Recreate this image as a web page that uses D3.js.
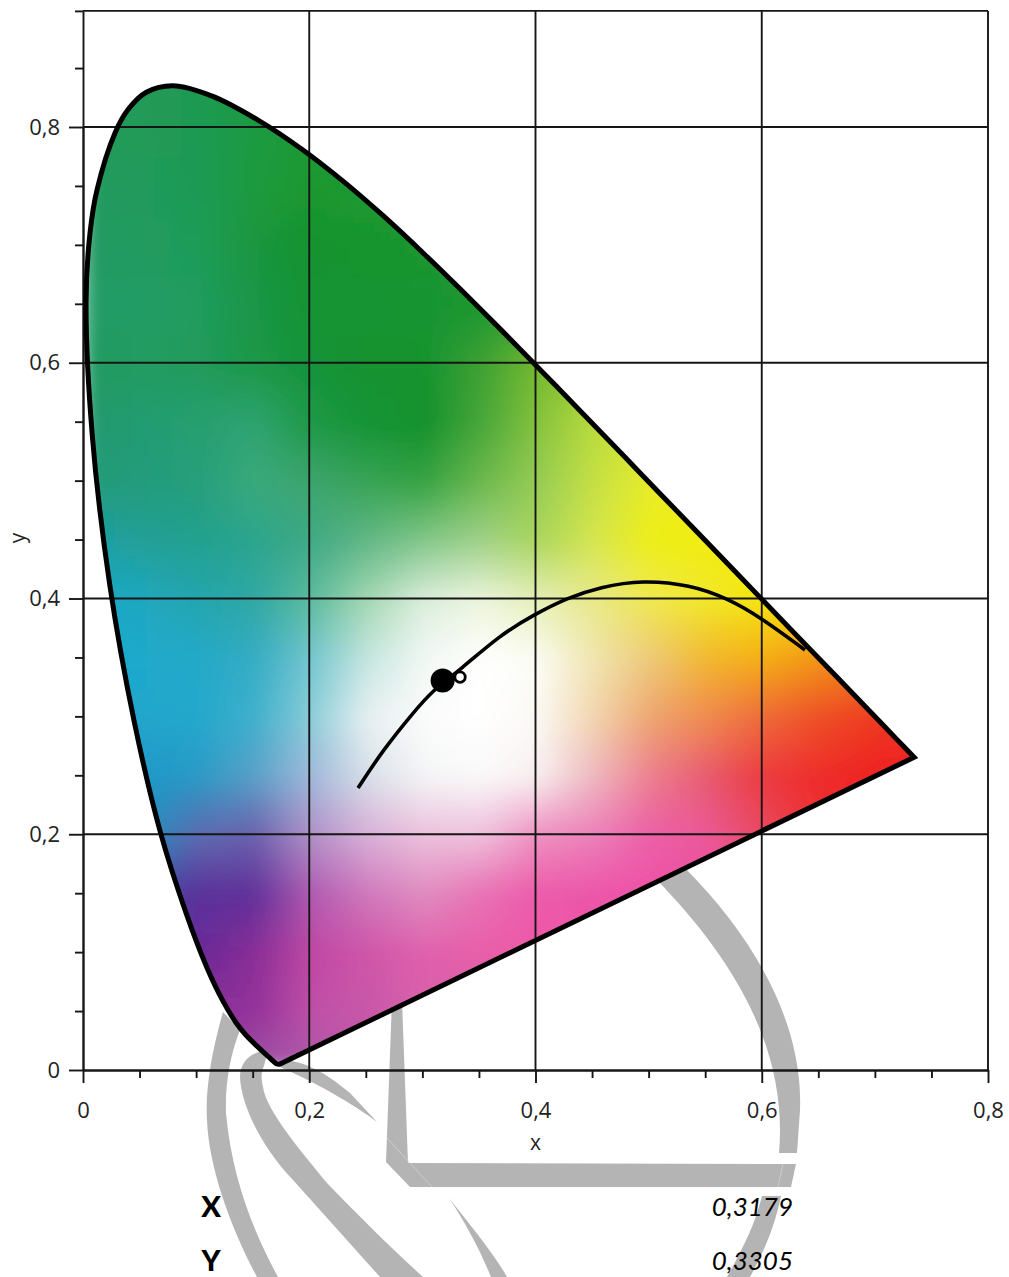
<!DOCTYPE html>
<html>
<head>
<meta charset="utf-8">
<script src="https://cdn.jsdelivr.net/npm/d3@7"></script>
<style>
  html, body { margin: 0; padding: 0; background: #fff; }
  svg { display: block; }
  text { font-family: "Open Sans", sans-serif; fill: #222; }
  .axis path, .axis line, .grid line { stroke: #161616; stroke-width: 1.9; }
</style>
</head>
<body>
<svg width="1009" height="1277"></svg>
<script>
// spectral locus
var locusX = [0.1741,0.1714,0.1644,0.1566,0.1440,0.1355,0.1241,0.1096,0.0913,0.0687,0.0454,0.0235,0.0082,0.0027,0.0062,0.0124,0.0283,0.0400,0.0560,0.0796,0.1142,0.1547,0.1929,0.2296,0.2658,0.3016,0.3373,0.3731,0.4087,0.4441,0.4788,0.5125,0.5752,0.6270,0.6658,0.6915,0.7079,0.7190,0.7347];
var locusY = [0.0050,0.0051,0.0109,0.0177,0.0297,0.0399,0.0578,0.0868,0.1327,0.2007,0.2950,0.4127,0.5384,0.6515,0.7101,0.7466,0.7950,0.8150,0.8295,0.8350,0.8262,0.8059,0.7816,0.7543,0.7243,0.6923,0.6589,0.6245,0.5896,0.5547,0.5202,0.4866,0.4242,0.3725,0.3340,0.3083,0.2920,0.2809,0.2653];

// black body curve
var curveX = [0.2431,0.2652,0.2917,0.3094,0.3333,0.3686,0.3996,0.4279,0.4570,0.4950,0.5366,0.5693,0.5998,0.6382];
var curveY = [0.2392,0.2715,0.3029,0.3224,0.3393,0.3690,0.3868,0.4004,0.4098,0.4157,0.4115,0.4004,0.3835,0.3563];

var pointX = 0.3179, pointY = 0.3305;
var whiteX = 0.3333, whiteY = 0.3333;

var majorTicks = [0, 0.2, 0.4, 0.6, 0.8];
var minorTicksX = [0.05,0.1,0.15,0.25,0.3,0.35,0.45,0.5,0.55,0.65,0.7,0.75];
var minorTicksY = [0.05,0.1,0.15,0.25,0.3,0.35,0.45,0.5,0.55,0.65,0.7,0.75,0.85];
var yTop = 0.8985;

// colour samples inside the diagram, one row per y value
var swatchX = [0,0.05,0.1,0.15,0.2,0.25,0.3,0.35,0.4,0.45,0.5,0.55,0.6,0.65,0.7,0.75];
var swatchY = [0.85,0.8,0.75,0.7,0.65,0.6,0.55,0.5,0.45,0.4,0.35,0.3,0.25,0.2,0.15,0.1,0.05,0];
var swatchRows = [
  ["#219a58","#219a58","#1f9a52","#1f9a42","#1f9a35","#1f9a35","#1f9a35","#1f9a35","#1f9a35","#1f9a35","#1f9a35","#1f9a35","#1f9a35","#1f9a35","#1f9a35","#1f9a35"],
  ["#219a58","#219a58","#1f9a52","#1f9a42","#1f9a35","#1f9a35","#1f9a35","#1f9a35","#1f9a35","#1f9a35","#1f9a35","#1f9a35","#1f9a35","#1f9a35","#1f9a35","#1f9a35"],
  ["#209a5e","#209a5c","#1e9a55","#1d9a3f","#1c982f","#1e9a30","#1e9a30","#1e9a30","#1e9a30","#1e9a30","#1e9a30","#1e9a30","#1e9a30","#1e9a30","#1e9a30","#1e9a30"],
  ["#209a63","#209b60","#1f9c58","#1a9640","#15922f","#17942f","#1b962f","#1d982f","#1d982f","#1d982f","#1d982f","#1d982f","#1d982f","#1d982f","#1d982f","#1d982f"],
  ["#209b68","#209c66","#209c5e","#1a9648","#149332","#149330","#179430","#1c972f","#35a030","#35a030","#35a030","#35a030","#35a030","#35a030","#35a030","#35a030"],
  ["#1f9a60","#229c60","#219b5c","#1c9847","#16933a","#14922f","#15932f","#3ea133","#73b930","#9ecb30","#9ecb30","#9ecb30","#9ecb30","#9ecb30","#9ecb30","#9ecb30"],
  ["#20996f","#219c72","#279f70","#2fa472","#1f9947","#169435","#13912c","#46a63a","#85c23e","#b8dc3e","#dbe530","#e8ec20","#e8ec20","#e8ec20","#e8ec20","#e8ec20"],
  ["#209a78","#219c7c","#279f7c","#3aa97c","#3da56e","#38a457","#36a343","#6bb84e","#96cc55","#c5e045","#e8ec2a","#efee14","#f0ee10","#f0ee10","#f0ee10","#f0ee10"],
  ["#1fa0a8","#20a098","#22a18f","#2ca58e","#3fa985","#62b886","#84c88b","#a0d28a","#aad65c","#d6e650","#eeee18","#f0ec10","#f0ec10","#f0ec10","#f0ec10","#f0ec10"],
  ["#1ba8c8","#1fa8c0","#24a6b0","#2fa8a4","#5cbb9e","#a4d8b2","#dceedd","#edf5dd","#e6f0b8","#e8e88a","#efe850","#f2e82a","#f5e50f","#f5d80a","#f5d80a","#f5d80a"],
  ["#1ca8cc","#1fa9cc","#24a9c8","#34acc4","#74c6d0","#c5e6e0","#f2f8f4","#ffffff","#fcfcf5","#f0e6b0","#eec97a","#f2b830","#f5ae15","#f29518","#ee8020","#ee8020"],
  ["#20a6cc","#20a6cc","#24a8cc","#3fb0cd","#8acdd8","#e8f0f2","#fbfcfb","#ffffff","#fbfaf5","#f3d5b0","#eea670","#f08a50","#ee6a3a","#ee4e26","#ee3a22","#ee2e20"],
  ["#1f98c8","#1f98c8","#2a9ac6","#5aa0c8","#a0b8da","#d8dfe8","#f4f5f6","#fafafa","#f8eff0","#eeb8c0","#ec7f90","#e85a70","#ec3a40","#ee2c2c","#ee2222","#ee2222"],
  ["#2090c0","#2090c0","#5d6bb0","#6b60ac","#b090c8","#d8b0d8","#ecc0dc","#eec0dc","#ee90c0","#ec80ba","#ec5fa8","#ea5898","#e84a60","#ee3030","#ee3030","#ee3030"],
  ["#4050a0","#4050a0","#5a309a","#60309a","#b05ab0","#d078bc","#e08cc0","#e872b4","#ec5aaa","#ec55a8","#ee52a6","#ee52a6","#ee52a6","#ee52a6","#ee52a6","#ee52a6"],
  ["#6a2a98","#6a2a98","#6a2a98","#8a2d96","#c048a4","#cf55a8","#e060ac","#e85ea8","#ee58a8","#ee58a8","#ee58a8","#ee58a8","#ee58a8","#ee58a8","#ee58a8","#ee58a8"],
  ["#8a2f98","#8a2f98","#8a2f98","#94329a","#bf50a8","#c858a8","#d860ac","#d860ac","#d860ac","#d860ac","#d860ac","#d860ac","#d860ac","#d860ac","#d860ac","#d860ac"],
  ["#a055a8","#a055a8","#a055a8","#a055a8","#a85aa8","#c05aa8","#c05aa8","#c05aa8","#c05aa8","#c05aa8","#c05aa8","#c05aa8","#c05aa8","#c05aa8","#c05aa8","#c05aa8"]
];

// watermark behind the chart
var watermark = [
  "M683,866 C762,945 803,1030 800,1110 L797,1153 L779,1153 C788,1050 735,960 655,878 Z",
  "M392,1000 L402,1000 L408,1163 L796,1164 L791,1187 L410,1187 L386,1162 Z",
  "M781,1196 C775,1225 765,1250 750,1277 L727,1277 C742,1250 755,1225 762,1196 Z",
  "M223,1012 C212,1050 205,1090 207,1120 C209,1170 232,1230 257,1277 L278,1277 C255,1235 232,1180 226,1113 C225,1085 230,1055 240,1030 Z",
  "M268,1050 C250,1052 240,1062 240,1077 C241,1105 262,1148 293,1180 L380,1277 L423,1277 C390,1247 355,1212 327,1183 C300,1150 266,1110 263,1087 C261,1078 261,1072 264,1066 Z",
  "M285,1060 C305,1062 325,1072 350,1093 L377,1122 C355,1105 315,1082 280,1067 Z",
  "M449,1198 C470,1225 495,1255 507,1277 L491,1277 C480,1250 465,1222 449,1198 Z"
];

var svg = d3.select("svg");

var x = d3.scaleLinear().domain([0, 0.8]).range([83, 988]);
var y = d3.scaleLinear().domain([0, 0.8]).range([1070, 127]);

function comma(d) { return String(d).replace(".", ","); }

svg.append("g").selectAll("path")
  .data(watermark)
  .enter().append("path")
  .attr("d", d => d)
  .attr("fill", "#b4b4b4");

// the thin seams in the watermark
svg.append("g").selectAll("path")
  .data(["M387,1138 L432,1187", "M783,1164 L778,1187"])
  .enter().append("path")
  .attr("d", d => d)
  .attr("stroke", "#d2d2d2")
  .attr("stroke-width", 0.8)
  .attr("fill", "none");

var locus = locusX.map((d, i) => [x(d), y(locusY[i])]);
var locusPath = d3.line().curve(d3.curveCatmullRom.alpha(0.5))(locus) + "Z";

svg.append("clipPath").attr("id", "locus-clip")
  .append("path").attr("d", locusPath);

var defs = svg.append("defs");
defs.append("filter").attr("id", "soft")
  .attr("filterUnits", "userSpaceOnUse")
  .attr("x", 0).attr("y", 0).attr("width", 1009).attr("height", 1277)
  .append("feGaussianBlur").attr("stdDeviation", 9);

// colour field on a small canvas, bilinear between the samples
var step = 3;
var fx0 = x(0), fy0 = y(0.85), fw = x(0.75) - fx0, fh = y(0) - fy0;
var canvas = document.createElement("canvas");
canvas.width = Math.ceil(fw / step);
canvas.height = Math.ceil(fh / step);
var ctx = canvas.getContext("2d");
var rowScale = d3.scaleLinear().domain([y(swatchY[0]), y(0)]).range([0, swatchY.length - 1]).clamp(true);
var colScale = d3.scaleLinear().domain([x(0), x(swatchX[swatchX.length - 1])]).range([0, swatchX.length - 1]).clamp(true);
for (var j = 0; j < canvas.height; j++) {
  for (var i = 0; i < canvas.width; i++) {
    var rf = rowScale(fy0 + j * step), cf = colScale(fx0 + i * step);
    var r0 = Math.min(Math.floor(rf), swatchY.length - 2), c0 = Math.min(Math.floor(cf), swatchX.length - 2);
    var upper = d3.interpolateRgb(swatchRows[r0][c0], swatchRows[r0][c0 + 1])(cf - c0);
    var lower = d3.interpolateRgb(swatchRows[r0 + 1][c0], swatchRows[r0 + 1][c0 + 1])(cf - c0);
    ctx.fillStyle = d3.interpolateRgb(upper, lower)(rf - r0);
    ctx.fillRect(i, j, 1, 1);
  }
}

svg.append("g")
  .attr("clip-path", "url(#locus-clip)")
  .append("image")
  .attr("href", canvas.toDataURL())
  .attr("x", fx0).attr("y", fy0)
  .attr("width", canvas.width * step).attr("height", canvas.height * step)
  .attr("preserveAspectRatio", "none")
  .attr("filter", "url(#soft)");

// grid
var grid = svg.append("g").attr("class", "grid");
grid.selectAll(".gx").data(majorTicks.slice(1))
  .enter().append("line")
  .attr("x1", d => x(d)).attr("x2", d => x(d))
  .attr("y1", y(yTop)).attr("y2", y(0));
grid.selectAll(".gy").data(majorTicks.slice(1).concat([yTop]))
  .enter().append("line")
  .attr("y1", d => y(d)).attr("y2", d => y(d))
  .attr("x1", x(0)).attr("x2", x(0.8));

// axes
var bottom = svg.append("g").attr("class", "axis")
  .attr("transform", "translate(0," + y(0) + ")");
bottom.call(d3.axisBottom(x).tickValues(majorTicks).tickSize(13).tickSizeOuter(0).tickPadding(19).tickFormat(comma));
bottom.append("g").call(d3.axisBottom(x).tickValues(minorTicksX).tickSize(8).tickSizeOuter(0).tickFormat(""));

var left = svg.append("g").attr("class", "axis")
  .attr("transform", "translate(" + x(0) + ",0)");
left.call(d3.axisLeft(y.copy().domain([0, yTop]).range([y(0), y(yTop)])).tickValues(majorTicks).tickSize(14).tickSizeOuter(0).tickPadding(9).tickFormat(comma));
left.append("g").call(d3.axisLeft(y).tickValues(minorTicksY.concat([yTop])).tickSize(8).tickSizeOuter(0).tickFormat(""));

svg.selectAll(".axis .tick text")
  .style("font-family", '"Open Sans", sans-serif')
  .style("font-size", "22px")
  .attr("fill", "#222");

svg.append("text").attr("x", x(0.4)).attr("y", 1150)
  .attr("text-anchor", "middle").style("font-size", "21px").text("x");
svg.append("text").attr("transform", "translate(25,538) rotate(-90)")
  .attr("text-anchor", "middle").style("font-size", "21px").text("y");

// black body curve
svg.append("path")
  .attr("d", d3.line().curve(d3.curveBasis)(curveX.map((d, i) => [x(d), y(curveY[i])])))
  .attr("fill", "none")
  .attr("stroke", "#000")
  .attr("stroke-width", 3.6);

// locus outline
svg.append("path")
  .attr("d", locusPath)
  .attr("fill", "none")
  .attr("stroke", "#000")
  .attr("stroke-width", 5)
  .attr("stroke-linejoin", "miter");

svg.append("circle")
  .attr("cx", x(whiteX)).attr("cy", y(whiteY)).attr("r", 5.2)
  .attr("fill", "#fff").attr("stroke", "#000").attr("stroke-width", 2.8);
svg.append("circle")
  .attr("cx", x(pointX)).attr("cy", y(pointY)).attr("r", 12)
  .attr("fill", "#000");

// values under the chart
var rows = [["X", pointX], ["Y", pointY]];
rows.forEach(function(row, i) {
  var yy = 1217 + i * 54;
  svg.append("text").attr("x", 211).attr("y", yy)
    .attr("text-anchor", "middle")
    .style("font-family", "Lato, sans-serif").style("font-weight", 900).style("font-size", "29px")
    .style("fill", "#000")
    .text(row[0]);
  svg.append("text").attr("x", 793).attr("y", yy - 1)
    .attr("text-anchor", "end")
    .style("font-family", "Lato, sans-serif").style("font-style", "italic").style("font-size", "26px")
    .style("fill", "#000")
    .text(comma(row[1].toFixed(4)));
});
</script>
</body>
</html>
